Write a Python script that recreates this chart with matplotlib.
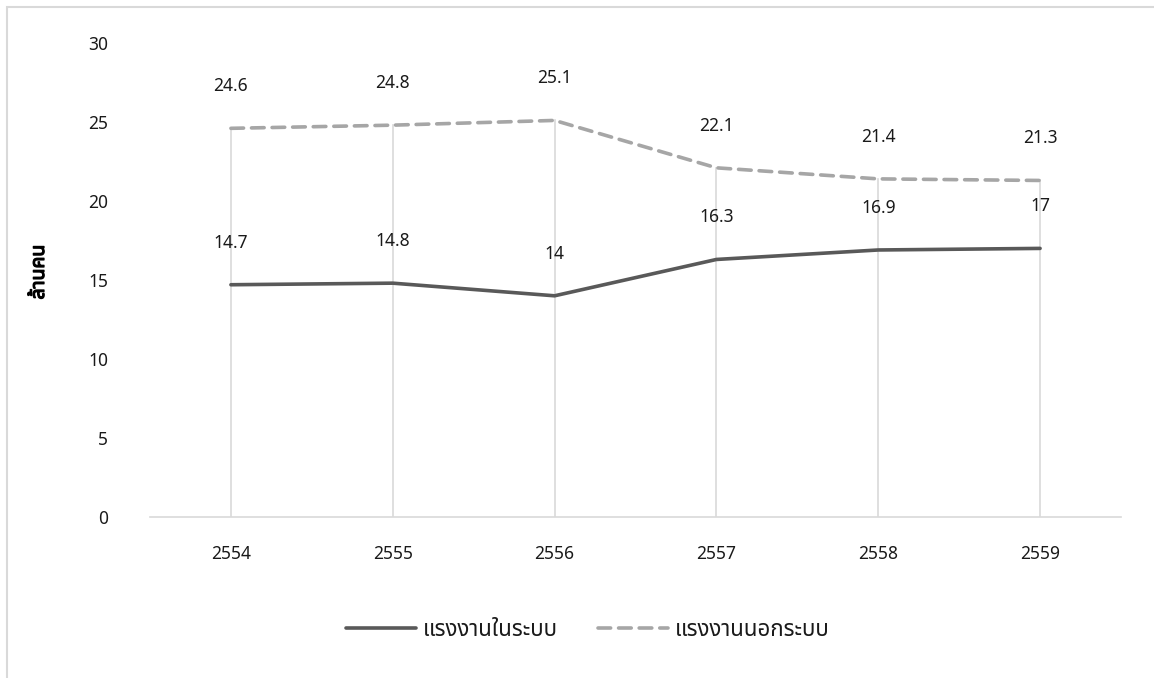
import matplotlib
matplotlib.use("Agg")
import matplotlib.pyplot as plt
import matplotlib.patheffects as pe
from matplotlib.patches import Rectangle

plt.rcParams['font.family'] = ['Noto Sans Thai', 'DejaVu Sans']

# data
years = ["2554", "2555", "2556", "2557", "2558", "2559"]
formal = [14.7, 14.8, 14, 16.3, 16.9, 17]
informal = [24.6, 24.8, 25.1, 22.1, 21.4, 21.3]
formal_name = "แรงงานในระบบ"
informal_name = "แรงงานนอกระบบ"
ylabel = "ล้านคน"

W, H = 1154, 678
fig = plt.figure(figsize=(W / 100, H / 100), dpi=100)
ax = fig.add_axes([150 / W, 1 - 517 / H, (1121 - 150) / W, (517 - 43) / H])

x = list(range(len(years)))

# drop lines from the top series down to the axis
for xi, a, b in zip(x, formal, informal):
    ax.plot([xi, xi], [0, max(a, b)], color="#D9D9D9", lw=1.2, zorder=1)

ax.plot(x, formal, color="#595959", lw=2.6, solid_capstyle="round", zorder=3,
        label=formal_name)
ax.plot(x, informal, color="#A6A6A6", lw=2.6, dashes=(3.5, 2.2),
        dash_capstyle="round", zorder=3, label=informal_name)

for series in (formal, informal):
    for xi, v in zip(x, series):
        ax.annotate(f"{v:g}", (xi, v), xytext=(0, 42), textcoords="offset pixels",
                    ha="center", va="center", fontsize=12.5, color="#1a1a1a")

ax.set_xlim(-0.5, len(years) - 0.5)
ax.set_ylim(0, 30)
ax.set_yticks(range(0, 31, 5))
ax.set_xticks(x)
ax.set_xticklabels(years)
ax.tick_params(length=0, labelsize=12.5, colors="#1a1a1a")
ax.tick_params(axis="y", pad=30)
ax.tick_params(axis="x", pad=20)

for s in ["top", "right", "left"]:
    ax.spines[s].set_visible(False)
ax.spines["bottom"].set_color("#D9D9D9")
ax.spines["bottom"].set_linewidth(1.2)

yl = ax.set_ylabel(ylabel, fontsize=14, fontweight="bold", color="black")
yl.set_path_effects([pe.withStroke(linewidth=0.9, foreground="black")])
ax.yaxis.set_label_coords((49 - 150) / 971, (517 - 272) / 474)

leg = fig.legend(loc="center", bbox_to_anchor=(588 / W, 1 - 630 / H), ncol=2,
                 frameon=False, fontsize=16, handlelength=3.15,
                 columnspacing=1.8, handletextpad=0.3)
for t in leg.get_texts():
    t.set_color("#1a1a1a")

# outer chart border (only top/left visible in the crop)
fig.patches.append(Rectangle((7 / W, -0.05), 1.1, 1 - 7 / H + 0.05,
                             transform=fig.transFigure, fill=False,
                             edgecolor="#D9D9D9", lw=1.5))

fig.savefig("out.png", dpi=100)
